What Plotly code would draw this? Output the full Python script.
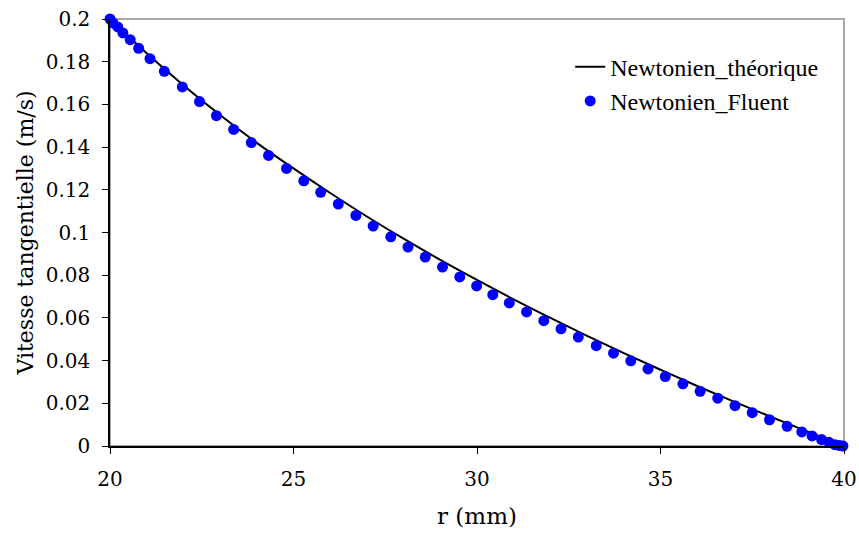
import plotly.graph_objects as go

# Theoretical curve
r_theo = [20, 21, 22, 23, 24, 25, 26, 27, 28, 29, 30, 31, 32, 33, 34, 35, 36, 37, 38, 39, 40]
v_theo = [0.200, 0.184, 0.169, 0.155, 0.142, 0.130, 0.1185, 0.1075, 0.0971, 0.0872, 0.0778,
          0.0687, 0.0600, 0.0516, 0.0435, 0.0357, 0.0281, 0.0208, 0.0137, 0.0068, 0.0]

# Fluent points
r_fluent = [20.00, 20.08, 20.21, 20.35, 20.55, 20.78, 21.09, 21.48, 21.97, 22.44, 22.90, 23.37,
            23.85, 24.32, 24.81, 25.28, 25.74, 26.22, 26.70, 27.17, 27.65, 28.12, 28.59, 29.06,
            29.53, 29.99, 30.43, 30.88, 31.35, 31.82, 32.29, 32.76, 33.25, 33.72, 34.19, 34.66,
            35.13, 35.61, 36.08, 36.56, 37.03, 37.50, 37.97, 38.45, 38.85, 39.13, 39.39, 39.59,
            39.75, 39.88, 39.97]
v_fluent = [0.2000, 0.1982, 0.1963, 0.1935, 0.1903, 0.1863, 0.1814, 0.1755, 0.1682, 0.1613,
            0.1547, 0.1483, 0.1421, 0.1361, 0.1300, 0.1242, 0.1188, 0.1133, 0.1080, 0.1030,
            0.0980, 0.0932, 0.0885, 0.0838, 0.0792, 0.0750, 0.0709, 0.0670, 0.0628, 0.0587,
            0.0549, 0.0510, 0.0470, 0.0435, 0.0399, 0.0361, 0.0325, 0.0291, 0.0256, 0.0224,
            0.0189, 0.0156, 0.0123, 0.0092, 0.0066, 0.0047, 0.0030, 0.0017, 0.0006, 0.0002,
            0.0000]

x_ticks = [20, 25, 30, 35, 40]
y_ticks = [0, 0.02, 0.04, 0.06, 0.08, 0.1, 0.12, 0.14, 0.16, 0.18, 0.2]
y_labels = ["0", "0.02", "0.04", "0.06", "0.08", "0.1", "0.12", "0.14", "0.16", "0.18", "0.2"]

FONT = "DejaVu Serif"
LEG_FONT = "Liberation Serif"

fig = go.Figure()
fig.add_trace(go.Scatter(x=r_theo, y=v_theo, mode="lines", name="Newtonien_théorique",
                         line=dict(color="black", width=2, shape="spline"), cliponaxis=False))
fig.add_trace(go.Scatter(x=r_fluent, y=v_fluent, mode="markers", name="Newtonien_Fluent",
                         marker=dict(color="#0000ff", size=11), cliponaxis=False))

fig.add_shape(type="rect", xref="paper", yref="paper", x0=0, y0=0, x1=1, y1=1,
              line=dict(color="#a8a8a8", width=2), layer="below")

fig.update_layout(
    width=859, height=533,
    margin=dict(l=110, r=15, t=19, b=87),
    paper_bgcolor="white", plot_bgcolor="white",
    font=dict(family=FONT, size=20, color="black"),
    showlegend=True,
    legend=dict(x=0.627, y=0.94, xanchor="left", yanchor="top", bgcolor="rgba(0,0,0,0)",
                font=dict(family=LEG_FONT, size=24), itemwidth=30),
    xaxis=dict(range=[20, 40], tickvals=x_ticks, ticks="outside", ticklen=6, tickcolor="black",
               showline=True, linecolor="black", linewidth=1.5, showgrid=False, zeroline=False,
               automargin=False, ticklabelstandoff=8,
               title=dict(text="r (mm)", font=dict(size=23), standoff=18),
               tickfont=dict(size=20)),
    yaxis=dict(range=[0, 0.2], tickvals=y_ticks, ticktext=y_labels, ticks="outside", ticklen=6,
               tickcolor="black", showline=True, linecolor="black", linewidth=1.5,
               showgrid=False, zeroline=False, automargin=False, ticklabelstandoff=8,
               title=dict(text="Vitesse tangentielle (m/s)", font=dict(size=22), standoff=6),
               tickfont=dict(size=20)),
)

fig.write_html("out.html", config={"displayModeBar": False},
               post_script="document.body.style.margin='0';document.body.style.padding='0';")
